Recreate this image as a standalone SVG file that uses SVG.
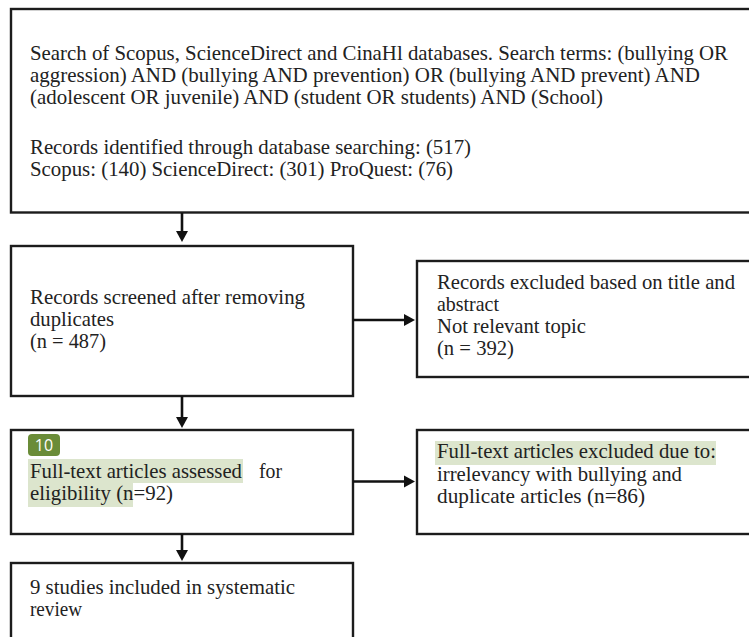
<svg xmlns="http://www.w3.org/2000/svg" width="749" height="637" viewBox="0 0 749 637">
<style>
.box{fill:#ffffff;stroke:#1c1c1c;stroke-width:2.4}
.t{font-family:"Liberation Serif","Times New Roman",serif;font-size:21px;fill:#222222}
.hl{fill:#dce5cd}
.conn{stroke:#111111;stroke-width:2.6;fill:none}
.head{fill:#111111}
</style>
<rect width="749" height="637" fill="#ffffff"/>
<g id="search">
<rect class="box" x="11" y="9" width="760" height="203.5"/>
<text class="t" x="30" y="60" textLength="698" lengthAdjust="spacingAndGlyphs">Search of Scopus, ScienceDirect and CinaHl databases. Search terms: (bullying OR</text>
<text class="t" x="30" y="82" textLength="670" lengthAdjust="spacingAndGlyphs">aggression) AND (bullying AND prevention) OR (bullying AND prevent) AND</text>
<text class="t" x="30" y="104" textLength="573" lengthAdjust="spacingAndGlyphs">(adolescent OR juvenile) AND (student OR students) AND (School)</text>
<text class="t" x="30" y="154" textLength="441" lengthAdjust="spacingAndGlyphs">Records identified through database searching: (517)</text>
<text class="t" x="30" y="176" textLength="423" lengthAdjust="spacingAndGlyphs">Scopus: (140) ScienceDirect: (301) ProQuest: (76)</text>
</g>
<g id="screened">
<rect class="box" x="11" y="246" width="342" height="150"/>
<text class="t" x="30" y="304" textLength="275" lengthAdjust="spacingAndGlyphs">Records screened after removing</text>
<text class="t" x="30" y="326" textLength="84" lengthAdjust="spacingAndGlyphs">duplicates</text>
<text class="t" x="30" y="348" textLength="76" lengthAdjust="spacingAndGlyphs">(n = 487)</text>
</g>
<g id="excluded1">
<rect class="box" x="417" y="261" width="360" height="116"/>
<text class="t" x="437" y="289" textLength="298" lengthAdjust="spacingAndGlyphs">Records excluded based on title and</text>
<text class="t" x="437" y="311" textLength="62" lengthAdjust="spacingAndGlyphs">abstract</text>
<text class="t" x="437" y="333" textLength="149" lengthAdjust="spacingAndGlyphs">Not relevant topic</text>
<text class="t" x="437" y="355" textLength="77" lengthAdjust="spacingAndGlyphs">(n = 392)</text>
</g>
<g id="fulltext">
<rect class="box" x="11" y="430" width="342" height="104"/>
<rect class="hl" x="28" y="459" width="215" height="24"/>
<rect class="hl" x="28" y="483" width="105" height="24"/>
<rect x="28" y="434" width="32" height="22" rx="4" fill="#6a8c38"/>
<text x="44" y="451" text-anchor="middle" font-family="'Open Sans','Noto Sans',sans-serif" font-size="16" fill="#ffffff">10</text>
<text class="t" x="30" y="478" textLength="212" lengthAdjust="spacingAndGlyphs">Full-text articles assessed</text>
<text class="t" x="259" y="478" textLength="23" lengthAdjust="spacingAndGlyphs">for</text>
<text class="t" x="30" y="500" textLength="143" lengthAdjust="spacingAndGlyphs">eligibility (n=92)</text>
</g>
<g id="excluded2">
<rect class="box" x="417" y="430" width="360" height="104"/>
<rect class="hl" x="435" y="441" width="281" height="24"/>
<text class="t" x="437" y="458" textLength="279" lengthAdjust="spacingAndGlyphs">Full-text articles excluded due to:</text>
<text class="t" x="437" y="481" textLength="245" lengthAdjust="spacingAndGlyphs">irrelevancy with bullying and</text>
<text class="t" x="437" y="503" textLength="208" lengthAdjust="spacingAndGlyphs">duplicate articles (n=86)</text>
</g>
<g id="included">
<rect class="box" x="11" y="563" width="342" height="100"/>
<text class="t" x="30" y="594" textLength="265" lengthAdjust="spacingAndGlyphs">9 studies included in systematic</text>
<text class="t" x="30" y="616" textLength="52" lengthAdjust="spacingAndGlyphs">review</text>
</g>
<g id="connectors">
<line class="conn" x1="182" y1="213" x2="182" y2="232"/>
<polygon class="head" points="176,231 188,231 182,242"/>
<line class="conn" x1="182" y1="396" x2="182" y2="418"/>
<polygon class="head" points="176,417 188,417 182,428"/>
<line class="conn" x1="182" y1="534" x2="182" y2="551"/>
<polygon class="head" points="176,550 188,550 182,561"/>
<line class="conn" x1="353" y1="320" x2="405" y2="320"/>
<polygon class="head" points="404,314 404,326 415,320"/>
<line class="conn" x1="353" y1="481.5" x2="405" y2="481.5"/>
<polygon class="head" points="404,475.5 404,487.5 415,481.5"/>
</g>
</svg>
